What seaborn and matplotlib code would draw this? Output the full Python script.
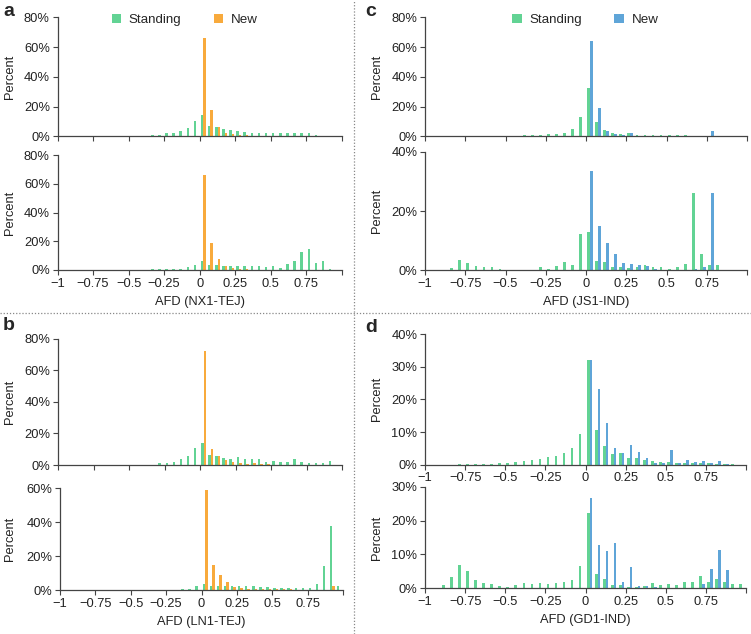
import numpy as np
import pandas as pd
import matplotlib
matplotlib.use("Agg")
import matplotlib.pyplot as plt
import seaborn as sns
from matplotlib.lines import Line2D
from matplotlib.patches import Patch

sns.set_style("ticks")
plt.rcParams['font.family'] = ['Liberation Sans', 'DejaVu Sans']

# ---------------- data (percent per AFD bin of width 0.05, -1..1) ----------------
n_bins = 40
bin_edges = np.linspace(-1, 1, n_bins + 1)
bin_centers = np.round((bin_edges[:-1] + bin_edges[1:]) / 2, 3)

a1_standing = [0]*11 + [0.2, 0.3, 0.8, 1.2, 2.0, 2.5, 3.5, 5.5, 10.3] + \
    [14.2, 7.2, 6.2, 5.0, 4.0, 3.5, 2.8, 2.5, 2.5, 2.5, 2.5, 2.5, 2.5, 2.5, 2.2, 2.0, 1.0, 0.3, 0, 0]
a1_new = [0]*20 + [66, 17.5, 6.5, 2.0, 1.5, 1.0, 0.6, 0.4, 0.3, 0.2, 0.2, 0.1, 0.1, 0.1, 0, 0, 0, 0, 0, 0]

a2_standing = [0]*11 + [0.2, 0.3, 0.5, 0.5, 1.0, 0.5, 1.0, 2.0, 3.5] + \
    [6.5, 3.5, 3.5, 2.5, 2.5, 2.5, 2.5, 2.5, 2.5, 1.8, 2.5, 1.5, 4.0, 6.5, 12.3, 14.8, 5.0, 6.0, 1.0, 0]
a2_new = [0]*20 + [66, 19, 7.5, 2.5, 1.5, 1.0, 0.5, 0.3, 0.2, 0.2, 0.1, 0.1, 0.1, 0, 0, 0, 0, 0, 0, 0]

b1_standing = [0]*12 + [0.2, 0.3, 1.0, 1.5, 2.0, 3.5, 5.5, 11.0] + \
    [14, 6.5, 5.5, 4.5, 3.5, 5.0, 3.5, 3.5, 3.5, 2.0, 2.5, 2.0, 2.0, 3.5, 2.0, 1.5, 1.5, 1.5, 2.5, 0]
b1_new = [0]*20 + [72, 10, 5.5, 3.0, 1.8, 1.2, 0.8, 1.0, 0.5, 0.4, 0.3, 0.3, 0.2, 0.2, 0.1, 0.1, 0, 0, 0, 0]

b2_standing = [0]*16 + [0.3, 0.5, 1.0, 2.5] + \
    [4.0, 2.5, 2.5, 2.5, 2.5, 2.5, 2.5, 2.5, 2.0, 2.0, 1.5, 1.5, 1.5, 1.5, 1.5, 1.5, 4.0, 14.2, 38, 2.5]
b2_new = [0]*20 + [59, 15, 9, 5, 2.2, 1.5, 1.0, 0.8, 0.6, 0.5, 0.5, 1.0, 0.5, 0.3, 0.3, 0.2, 0.2, 0.2, 2.5, 0]

c1_standing = [0]*8 + [0.3, 0.3, 0.5, 0.5, 0.8, 0.8, 1.2, 1.5, 1.8, 2.5, 5.0, 13.2] + \
    [32.3, 9.6, 4.5, 2.5, 1.5, 2.0, 1.2, 1.2, 1.0, 1.0, 1.0, 1.0, 0.8, 0.5, 0.5, 0.3, 0.3, 0.2, 0, 0]
c1_new = [0]*20 + [64, 19, 3.5, 1.8, 1.2, 2.0, 0.5, 0.4, 0.3, 0.3, 0.2, 0.2, 0.2, 0.2, 0.2, 3.5, 0, 0, 0, 0]

c2_standing = [0, 0, 0, 0.8, 3.5, 2.5, 1.5, 1.2, 1.2, 0.3, 0.2, 0.2, 0.2, 0.2, 1.2, 0.3, 1.5, 2.8, 1.8, 12.2,
               13.0, 3.2, 2.8, 1.0, 1.0, 0.8, 1.2, 1.8, 1.2, 1.2, 0.6, 1.2, 2.0, 26.0, 5.5, 1.8, 1.8, 0.2, 0.2, 0]
c2_new = [0]*20 + [33.5, 14.9, 9.3, 5.4, 2.5, 2.2, 1.8, 1.6, 0.3, 0.2, 0.2, 0.2, 0.2, 0.3, 1.2, 26.1, 0, 0, 0, 0]

d1_standing = [0, 0, 0, 0, 0.2, 0.2, 0.2, 0.3, 0.3, 0.4, 0.6, 0.8, 1.0, 1.3, 1.6, 2.3, 2.8, 3.5, 5.2, 9.3] + \
    [32, 10.7, 5.8, 3.3, 3.5, 2.2, 2.0, 1.5, 1.0, 0.8, 0.8, 0.6, 0.4, 0.4, 0.6, 0.5, 0.3, 0.3, 0.2, 0]
d1_new = [0]*20 + [32, 23.2, 12.8, 5.1, 3.5, 6.0, 3.8, 2.0, 0.6, 0.4, 4.6, 0.5, 1.3, 0.8, 1.2, 0.5, 1.0, 0.2, 0, 0]

d2_standing = [0.2, 0.2, 1.0, 3.4, 7.0, 5.1, 2.4, 1.6, 1.2, 0.8, 0.5, 1.1, 1.5, 1.2, 1.5, 1.2, 1.5, 1.8, 2.5, 6.6] + \
    [22.3, 4.2, 2.7, 1.0, 1.0, 0.3, 0.5, 0.6, 1.5, 1.0, 1.2, 1.0, 2.0, 1.8, 3.7, 2.0, 2.7, 1.8, 1.2, 1.2]
d2_new = [0]*20 + [26.7, 12.8, 11.1, 13.3, 2.0, 6.4, 0.6, 0.6, 0.3, 0.2, 0.2, 0.2, 0.2, 0.2, 1.2, 5.6, 11.3, 5.3, 0, 0]

x_tick_values = [-1, -0.75, -0.5, -0.25, 0, 0.25, 0.5, 0.75, 1]
x_tick_labels = ['\u22121', '\u22120.75', '\u22120.5', '\u22120.25', '0', '0.25', '0.5', '0.75', '']
series_names = ['Standing', 'New']

GREEN = '#62D394'
ORANGE = '#F8AA3C'
BLUE = '#5FA5D8'

W, H = 751, 634
fig = plt.figure(figsize=(W / 100, H / 100), dpi=100)


def rect(l, t, r, b):
    return [l / W, 1 - b / H, (r - l) / W, (b - t) / H]


panels = [
    dict(r=(57.5, 17.3, 342, 136.3), s=a1_standing, n=a1_new, c=ORANGE, yt=[0, 20, 40, 60, 80],
         xl=False, lab=None, leg=0.447),
    dict(r=(57.5, 155.3, 342, 270), s=a2_standing, n=a2_new, c=ORANGE, yt=[0, 20, 40, 60, 80],
         xl=True, lab='AFD (NX1-TEJ)', leg=None),
    dict(r=(58, 338.7, 342, 465), s=b1_standing, n=b1_new, c=ORANGE, yt=[0, 20, 40, 60, 80],
         xl=False, lab=None, leg=None),
    dict(r=(60, 488.3, 343, 590.3), s=b2_standing, n=b2_new, c=ORANGE, yt=[0, 20, 40, 60],
         xl=True, lab='AFD (LN1-TEJ)', leg=None),
    dict(r=(425, 17.3, 747, 136.3), s=c1_standing, n=c1_new, c=BLUE, yt=[0, 20, 40, 60, 80],
         xl=False, lab=None, leg=0.498),
    dict(r=(425, 152, 747, 270.3), s=c2_standing, n=c2_new, c=BLUE, yt=[0, 20, 40],
         xl=True, lab='AFD (JS1-IND)', leg=None),
    dict(r=(425, 334, 746, 464.7), s=d1_standing, n=d1_new, c=BLUE, yt=[0, 10, 20, 30, 40],
         xl=True, lab=None, leg=None),
    dict(r=(425, 486.7, 746, 588.3), s=d2_standing, n=d2_new, c=BLUE, yt=[0, 10, 20, 30],
         xl=True, lab='AFD (GD1-IND)', leg=None),
]

FS = 9.3
for p in panels:
    l, t, r, b = p['r']
    ax = fig.add_axes(rect(l, t, r, b))
    df = pd.DataFrame({
        'afd': np.concatenate([bin_centers, bin_centers]),
        'pct': np.concatenate([p['s'], p['n']]),
        'type': [series_names[0]] * len(bin_centers) + [series_names[1]] * len(bin_centers),
    })
    sns.histplot(data=df, x='afd', weights='pct', hue='type', hue_order=series_names,
                 bins=n_bins, binrange=(-1, 1), multiple='dodge', shrink=0.7,
                 palette={'Standing': GREEN, 'New': p['c']}, alpha=1, linewidth=0,
                 legend=False, ax=ax)
    ax.set_xlim(-1, 1)
    ax.set_ylim(0, p['yt'][-1])
    ax.set_yticks(p['yt'])
    ax.set_yticklabels([f'{v}%' for v in p['yt']])
    ax.set_xticks(x_tick_values)
    ax.set_xticklabels(x_tick_labels if p['xl'] else [''] * len(x_tick_values))
    sns.despine(ax=ax)
    for sp in ['left', 'bottom']:
        ax.spines[sp].set_color('#444444')
        ax.spines[sp].set_linewidth(0.9)
    ax.tick_params(axis='both', direction='out', length=3.5, width=0.8, color='#444444',
                   labelsize=FS, labelcolor='#222222', pad=2)
    ax.set_ylabel('Percent', fontsize=FS, color='#222222')
    ax.yaxis.set_label_coords(((16 if l < 300 else 383) - l) / (r - l), 0.5)
    if p['lab']:
        ax.set_xlabel(p['lab'], fontsize=FS, color='#222222')
        ax.xaxis.set_label_coords(0.5, -25.5 / (b - t))
    else:
        ax.set_xlabel('')
    if p['leg'] is not None:
        handles = [Patch(facecolor=GREEN, edgecolor='none', label='Standing'),
                   Patch(facecolor=p['c'], edgecolor='none', label='New')]
        ax.legend(handles=handles, loc='center', bbox_to_anchor=(p['leg'], 0.975), ncol=2,
                  frameon=False, fontsize=FS + 0.3, handlelength=0.7, handleheight=0.7,
                  handletextpad=0.6, columnspacing=2.4, borderaxespad=0)

# panel letters
for txt, x, y in [('a', 3, 11.5), ('b', 3, 325), ('c', 365, 11.5), ('d', 365, 328)]:
    fig.text(x / W, 1 - y / H, txt, fontsize=14, fontweight='bold', va='center', ha='left')

# dotted separators
fig.add_artist(Line2D([354 / W, 354 / W], [0, 1], transform=fig.transFigure,
                      linestyle=(0, (1, 1.5)), color='#888888', lw=0.9))
fig.add_artist(Line2D([0, 1], [1 - 312.5 / H, 1 - 312.5 / H], transform=fig.transFigure,
                      linestyle=(0, (1, 1.5)), color='#888888', lw=0.9))

fig.savefig('out.png', dpi=100)
